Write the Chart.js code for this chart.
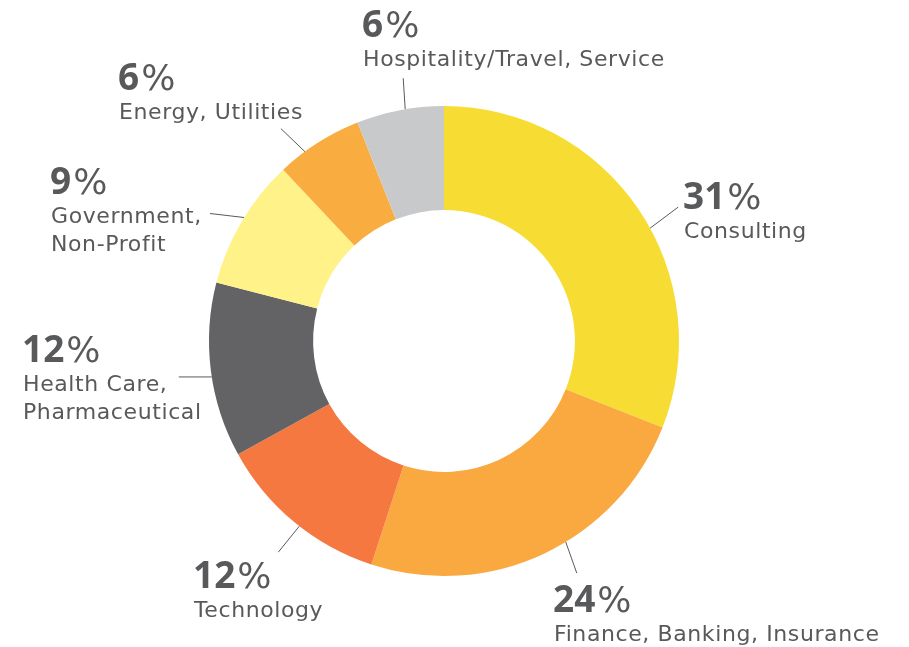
<!DOCTYPE html>
<html>
<head>
<meta charset="utf-8">
<script src="https://cdn.jsdelivr.net/npm/chart.js@4/dist/chart.umd.min.js"></script>
<style>
  html, body { margin: 0; padding: 0; background: #ffffff; }
  #wrap { width: 909px; height: 647px; position: relative; }
</style>
</head>
<body>
<div id="wrap"><canvas id="c" width="909" height="647"></canvas></div>
<script>
// ---- data ----
const categories = [
  "Consulting",
  "Finance, Banking, Insurance",
  "Technology",
  "Health Care, Pharmaceutical",
  "Government, Non-Profit",
  "Energy, Utilities",
  "Hospitality/Travel, Service"
];
const values = [31, 24, 12, 12, 9, 6, 6];
const labelLines = [
  ["Consulting"],
  ["Finance, Banking, Insurance"],
  ["Technology"],
  ["Health Care,", "Pharmaceutical"],
  ["Government,", "Non-Profit"],
  ["Energy, Utilities"],
  ["Hospitality/Travel, Service"]
];
const colors = ["#F7DD33", "#F9A93F", "#F47840", "#636265", "#FEF288", "#F9AD41", "#C8C9CB"];

// ---- annotation layout (leader angle from top in degrees, leader vector, text anchor) ----
const annotLayout = [
  { angle: 61.3,  dx: 28,  dy: -21, x: 683, y: 209 },
  { angle: 148.8, dx: 11,  dy: 31,  x: 553, y: 612 },
  { angle: 218.0, dx: -21, dy: 26,  x: 193, y: 588 },
  { angle: 261.2, dx: -33, dy: 0,   x: 22,  y: 362 },
  { angle: 301.7, dx: -34, dy: -4,  x: 50,  y: 194 },
  { angle: 323.7, dx: -24, dy: -23, x: 118, y: 90 },
  { angle: 350.5, dx: -2,  dy: -31, x: 362, y: 37 }
];

const textColor = "#58595B";
const numFont = "bold 37px 'Open Sans', sans-serif";
const pctFont = "normal 36px 'DejaVu Sans', sans-serif";
const lblFont = "normal 22px 'DejaVu Sans', sans-serif";

const labelPlugin = {
  id: 'outerLabels',
  afterDatasetsDraw(chart) {
    const ctx = chart.ctx;
    const meta = chart.getDatasetMeta(0);
    const arc0 = meta.data[0];
    const cx = arc0.x, cy = arc0.y, R = arc0.outerRadius;
    const data = chart.data.datasets[0].data;
    const total = data.reduce((a, b) => a + b, 0);
    ctx.save();
    annotLayout.forEach((L, i) => {
      const a = L.angle * Math.PI / 180;
      const sx = cx + R * Math.sin(a);
      const sy = cy - R * Math.cos(a);
      ctx.strokeStyle = textColor;
      ctx.lineWidth = 1;
      ctx.beginPath();
      ctx.moveTo(sx, sy);
      ctx.lineTo(sx + L.dx, sy + L.dy);
      ctx.stroke();

      const pct = Math.round(data[i] / total * 100);
      ctx.fillStyle = textColor;
      ctx.textBaseline = 'alphabetic';
      ctx.textAlign = 'left';
      ctx.letterSpacing = '0px';
      ctx.font = numFont;
      const numStr = String(pct);
      ctx.fillText(numStr, L.x, L.y);
      const w = ctx.measureText(numStr).width;
      ctx.font = pctFont;
      ctx.fillText("%", L.x + w + 2, L.y);

      ctx.font = lblFont;
      ctx.letterSpacing = '0.6px';
      labelLines[i].forEach((line, j) => {
        ctx.fillText(line, L.x + 1, L.y + 29 + j * 28);
      });
    });
    ctx.restore();
  }
};

new Chart(document.getElementById('c'), {
  type: 'doughnut',
  data: {
    labels: categories,
    datasets: [{
      data: values,
      backgroundColor: colors,
      borderWidth: 0,
      hoverOffset: 0
    }]
  },
  options: {
    responsive: false,
    animation: false,
    cutout: '55.7%',
    layout: { padding: { left: 209, right: 230, top: 106, bottom: 71 } },
    plugins: {
      legend: { display: false },
      tooltip: { enabled: false }
    }
  },
  plugins: [labelPlugin]
});
</script>
</body>
</html>
